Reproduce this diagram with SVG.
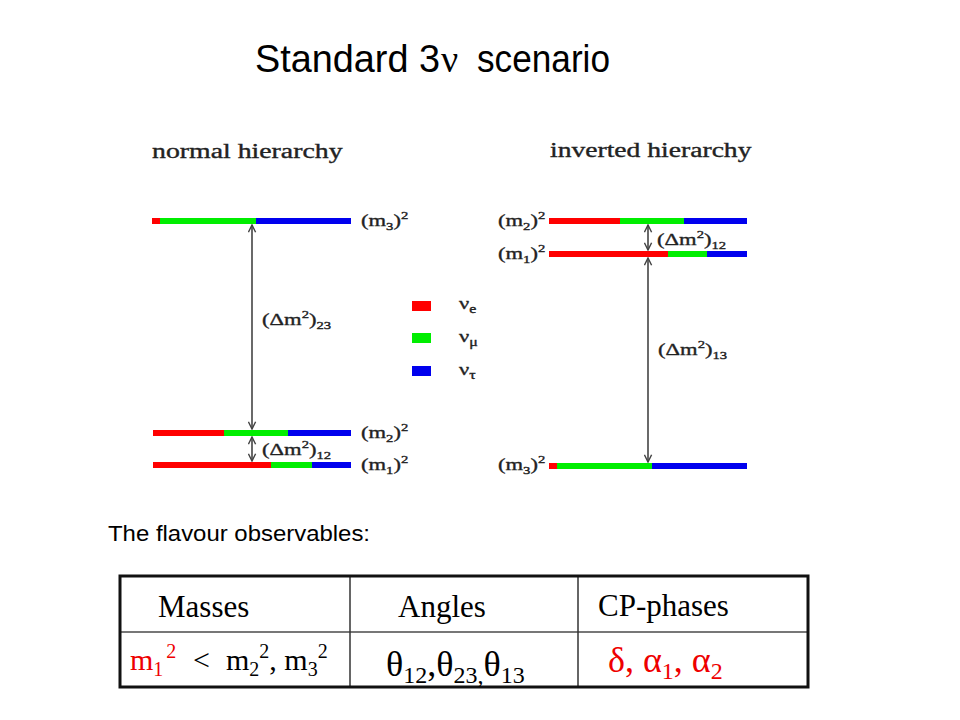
<svg xmlns="http://www.w3.org/2000/svg" width="960" height="720" viewBox="0 0 960 720">
<defs>
<style>
.sans{font-family:"Liberation Sans",Arial,sans-serif;fill:#000}
.serif{font-family:"Liberation Serif","Times New Roman",serif}
.lbl{font-family:"Liberation Serif","Times New Roman",serif;font-size:17px;fill:#222;stroke:#222;stroke-width:0.35}
.ttl{font-family:"Liberation Serif","Times New Roman",serif;font-size:20px;fill:#222;stroke:#222;stroke-width:0.35}
.s{font-size:11px}
.arr{stroke:#444;stroke-width:1.6;fill:none}
.r{fill:#ff0000}.g{fill:#00ee00}.b{fill:#0000ee}
.tb{font-family:"Liberation Serif","Times New Roman",serif;fill:#000}
.red{fill:#ee0000}
</style>
<marker id="ah" viewBox="0 0 10 10" refX="9" refY="5" markerWidth="9" markerHeight="9" markerUnits="userSpaceOnUse" orient="auto-start-reverse">
<path d="M1,1 L9,5 L1,9" fill="none" stroke="#444" stroke-width="1.6"/>
</marker>
</defs>
<rect width="960" height="720" fill="#fff"/>

<g id="title">
<text class="sans" x="255" y="72" font-size="38" textLength="185" lengthAdjust="spacingAndGlyphs">Standard 3</text>
<text class="serif" x="441" y="72" font-size="38">ν</text>
<text class="sans" x="477" y="72" font-size="38" textLength="133" lengthAdjust="spacingAndGlyphs">scenario</text>
</g>

<g id="normal-hierarchy">
<text class="ttl" transform="translate(152,158) scale(1.39,1)">normal hierarchy</text>
<g id="nh-m3">
<rect class="r" x="152" y="218" width="8" height="6"/>
<rect class="g" x="160" y="218" width="96" height="6"/>
<rect class="b" x="256" y="218" width="95" height="6"/>
<text class="lbl" transform="translate(361,226) scale(1.33,1)">(m<tspan class="s" dy="4">3</tspan><tspan dy="-4">)</tspan><tspan class="s" dy="-7">2</tspan></text>
</g>
<g id="nh-m2">
<rect class="r" x="153" y="430" width="71" height="6"/>
<rect class="g" x="224" y="430" width="64" height="6"/>
<rect class="b" x="288" y="430" width="63" height="6"/>
<text class="lbl" transform="translate(361,438) scale(1.33,1)">(m<tspan class="s" dy="4">2</tspan><tspan dy="-4">)</tspan><tspan class="s" dy="-7">2</tspan></text>
</g>
<g id="nh-m1">
<rect class="r" x="153" y="462" width="118" height="6"/>
<rect class="g" x="271" y="462" width="41" height="6"/>
<rect class="b" x="312" y="462" width="39" height="6"/>
<text class="lbl" transform="translate(361,470) scale(1.33,1)">(m<tspan class="s" dy="4">1</tspan><tspan dy="-4">)</tspan><tspan class="s" dy="-7">2</tspan></text>
</g>
<text class="lbl" transform="translate(262,325) scale(1.33,1)">(Δm<tspan class="s" dy="-7">2</tspan><tspan dy="7">)</tspan><tspan class="s" dy="4">23</tspan></text>
<text class="lbl" transform="translate(262,455) scale(1.33,1)">(Δm<tspan class="s" dy="-7">2</tspan><tspan dy="7">)</tspan><tspan class="s" dy="4">12</tspan></text>
</g>

<g id="legend">
<rect class="r" x="412" y="301" width="19" height="10"/>
<rect class="g" x="412" y="333" width="19" height="10"/>
<rect class="b" x="412" y="366" width="19" height="10"/>
<text class="lbl" transform="translate(459,309) scale(1.33,1)">ν<tspan font-size="12" dy="4">e</tspan></text>
<text class="lbl" transform="translate(459,342) scale(1.33,1)">ν<tspan font-size="12" dy="4">μ</tspan></text>
<text class="lbl" transform="translate(459,375) scale(1.33,1)">ν<tspan font-size="12" dy="4">τ</tspan></text>
</g>

<g id="inverted-hierarchy">
<text class="ttl" transform="translate(550,157) scale(1.38,1)">inverted hierarchy</text>
<g id="ih-m2">
<rect class="r" x="549" y="218" width="71" height="6"/>
<rect class="g" x="620" y="218" width="64" height="6"/>
<rect class="b" x="684" y="218" width="63" height="6"/>
<text class="lbl" transform="translate(498,226) scale(1.33,1)">(m<tspan class="s" dy="4">2</tspan><tspan dy="-4">)</tspan><tspan class="s" dy="-7">2</tspan></text>
</g>
<g id="ih-m1">
<rect class="r" x="549" y="251" width="119" height="6"/>
<rect class="g" x="668" y="251" width="39" height="6"/>
<rect class="b" x="707" y="251" width="40" height="6"/>
<text class="lbl" transform="translate(498,259) scale(1.33,1)">(m<tspan class="s" dy="4">1</tspan><tspan dy="-4">)</tspan><tspan class="s" dy="-7">2</tspan></text>
</g>
<g id="ih-m3">
<rect class="r" x="549" y="463" width="8" height="6"/>
<rect class="g" x="557" y="463" width="95" height="6"/>
<rect class="b" x="652" y="463" width="95" height="6"/>
<text class="lbl" transform="translate(498,470) scale(1.33,1)">(m<tspan class="s" dy="4">3</tspan><tspan dy="-4">)</tspan><tspan class="s" dy="-7">2</tspan></text>
</g>
<text class="lbl" transform="translate(657,245) scale(1.33,1)">(Δm<tspan class="s" dy="-7">2</tspan><tspan dy="7">)</tspan><tspan class="s" dy="4">12</tspan></text>
<text class="lbl" transform="translate(658,355) scale(1.33,1)">(Δm<tspan class="s" dy="-7">2</tspan><tspan dy="7">)</tspan><tspan class="s" dy="4">13</tspan></text>
</g>

<g id="connectors">
<line class="arr" x1="252" y1="429" x2="252" y2="225" marker-start="url(#ah)" marker-end="url(#ah)"/>
<line class="arr" x1="252" y1="461" x2="252" y2="437" marker-start="url(#ah)" marker-end="url(#ah)"/>
<line class="arr" x1="648" y1="250" x2="648" y2="225" marker-start="url(#ah)" marker-end="url(#ah)"/>
<line class="arr" x1="648" y1="462" x2="648" y2="258" marker-start="url(#ah)" marker-end="url(#ah)"/>
</g>

<text class="sans" x="108" y="541" font-size="22" textLength="262" lengthAdjust="spacingAndGlyphs">The flavour observables:</text>

<g id="table">
<line x1="120" y1="632" x2="808" y2="632" stroke="#777" stroke-width="2"/>
<line x1="350" y1="576" x2="350" y2="687" stroke="#333" stroke-width="1.5"/>
<line x1="578" y1="576" x2="578" y2="687" stroke="#333" stroke-width="1.5"/>
<rect x="120" y="576" width="688" height="111" fill="none" stroke="#111" stroke-width="3"/>
<text class="tb" x="158" y="617" font-size="31">Masses</text>
<text class="tb" x="398" y="617" font-size="31">Angles</text>
<text class="tb" x="598" y="616" font-size="31">CP-phases</text>
<text class="tb" x="130" y="670" font-size="30"><tspan class="red">m<tspan font-size="20" dy="6">1</tspan><tspan font-size="20" dx="3" dy="-18">2</tspan></tspan><tspan x="193" dy="12">&lt;</tspan><tspan x="226">m<tspan font-size="20" dy="6">2</tspan><tspan font-size="20" dy="-18">2</tspan><tspan dy="12">, m</tspan><tspan font-size="20" dy="6">3</tspan><tspan font-size="20" dy="-18">2</tspan></tspan></text>
<text class="tb" x="386" y="676" font-size="36">θ<tspan font-size="24" dy="7">12</tspan><tspan dy="-7">,θ</tspan><tspan font-size="24" dy="7">23,</tspan><tspan dy="-7">θ</tspan><tspan font-size="24" dy="7">13</tspan></text>
<text class="tb red" x="608" y="672" font-size="36">δ, α<tspan font-size="24" dy="7">1</tspan><tspan dy="-7">, α</tspan><tspan font-size="24" dy="7">2</tspan></text>
</g>
</svg>
